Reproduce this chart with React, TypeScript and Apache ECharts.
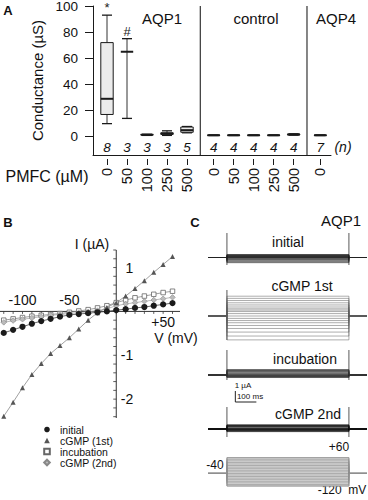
import React, { useEffect, useRef } from 'react';
import * as echarts from 'echarts';

const FONT = '"Liberation Sans", Arial, Helvetica, sans-serif';
const INK = '#1a1a1a';

// ---------- Panel A: conductance box plots ----------
const groupTitles = ['AQP1', 'control', 'AQP4'];
const groupOf = [0, 0, 0, 0, 0, 1, 1, 1, 1, 1, 2];
const pmfcLabels = ['0', '50', '100', '250', '500', '0', '50', '100', '250', '500', '0'];
const boxLow = [10, 14, 1.0, 1.0, 3.0, 0.9, 0.9, 0.9, 0.9, 1.2, 0.9];
const boxQ1 = [17, 65, 1.3, 1.8, 3.4, 1.0, 1.0, 1.0, 1.0, 1.4, 1.0];
const boxMedian = [29, 65, 1.5, 2.3, 5.0, 1.1, 1.1, 1.1, 1.1, 1.7, 1.1];
const boxQ3 = [72, 65, 1.7, 3.0, 7.4, 1.2, 1.2, 1.2, 1.2, 2.0, 1.2];
const boxHigh = [93, 75, 1.9, 4.5, 7.8, 1.3, 1.3, 1.3, 1.3, 2.2, 1.3];
const nCounts = [8, 3, 3, 3, 5, 4, 4, 4, 4, 4, 7];
const sigMarks = ['*', '#', '', '', '', '', '', '', '', '', ''];
const conductanceTicks = [0, 20, 40, 60, 80, 100];

// ---------- Panel B: I-V relations ----------
const voltages = [-120, -110, -100, -90, -80, -70, -60, -50, -40, -30, -20, -10, 0, 10, 20, 30, 40, 50, 60];
const iInitial = [-0.49, -0.42, -0.35, -0.28, -0.22, -0.17, -0.12, -0.08, -0.06, -0.04, -0.02, 0.0, 0.03, 0.05, 0.08, 0.1, 0.13, 0.16, 0.19];
const iCgmp1 = [-2.39, -2.07, -1.74, -1.44, -1.19, -0.96, -0.78, -0.6, -0.4, -0.2, -0.03, 0.09, 0.2, 0.35, 0.52, 0.7, 0.89, 1.07, 1.25];
const iIncubation = [-0.2, -0.17, -0.14, -0.11, -0.09, -0.07, -0.05, -0.02, 0.01, 0.04, 0.08, 0.13, 0.2, 0.26, 0.31, 0.35, 0.39, 0.43, 0.46];
const iCgmp2 = [-0.25, -0.21, -0.18, -0.15, -0.12, -0.09, -0.07, -0.05, -0.03, -0.01, 0.02, 0.06, 0.13, 0.17, 0.2, 0.23, 0.26, 0.29, 0.32];
const vTickLabelsAbove = [-100, -50];
const vTickLabelsBelow = [50];
const iTickLabels = [-2, -1, 1];

// ---------- Panel C: current traces / protocol ----------
const HOLDING_MV = -40;
const PULSE_ON_MS = 0;
const PULSE_OFF_MS = 580;
const TRACE_START_MS = -90;
const TRACE_END_MS = 666;
const SCALE_T0_MS = 40;
const SCALE_MS = 100;
const SCALE_UA = 1;

const positions = groupOf.map((g, i) => i + g * 0.333);
const dividers = [(positions[4] + positions[5]) / 2, (positions[9] + positions[10]) / 2];
const holdIdx = voltages.indexOf(HOLDING_MV);

function labelFor(v: number) {
  let best = 0;
  positions.forEach((p, i) => { if (Math.abs(p - v) < Math.abs(positions[best] - v)) best = i; });
  return pmfcLabels[best];
}

const PX_PER_UA = 12;
function traceRange(hold: number, baseY: number, top: number, h: number) {
  return { min: hold - (top + h - baseY) / PX_PER_UA, max: hold + (baseY - top) / PX_PER_UA };
}

const traceGrids = [
  { name: 'initial', values: iInitial, top: 233, h: 32, base: 257.5, color: '#222', width: 0.6, trans: [PULSE_ON_MS, PULSE_OFF_MS] },
  { name: 'cGMP 1st', values: iCgmp1, top: 290, h: 50, base: 316, color: '#5a5a5a', width: 0.5, trans: [PULSE_ON_MS] },
  { name: 'incubation', values: iIncubation, top: 350, h: 30, base: 375, color: '#333', width: 0.6, trans: [PULSE_ON_MS, PULSE_OFF_MS] },
  { name: 'cGMP 2nd', values: iCgmp2, top: 407, h: 30, base: 429, color: '#111', width: 0.6, trans: [PULSE_ON_MS, PULSE_OFF_MS] },
];

function stepRender(color: string, width: number, trans: number[], bg?: { hi: number; lo: number }) {
  return (params: any, api: any) => {
    const step = api.value(1);
    const hold = api.value(2);
    const pts = [
      [TRACE_START_MS, hold], [PULSE_ON_MS, hold], [PULSE_ON_MS, step],
      [PULSE_OFF_MS, step], [PULSE_OFF_MS, hold], [TRACE_END_MS, hold],
    ].map((p) => api.coord(p));
    const children: any[] = [];
    if (params.dataIndex === 0) {
      const cs = params.coordSys;
      if (bg) {
        const a = api.coord([PULSE_ON_MS, bg.hi]);
        const b = api.coord([PULSE_OFF_MS, bg.lo]);
        children.push({ type: 'rect', shape: { x: a[0], y: a[1], width: b[0] - a[0], height: b[1] - a[1] }, style: { fill: '#e3e3e3', stroke: '#9a9a9a', lineWidth: 0.8 } });
      }
      trans.forEach((t) => {
        const x = api.coord([t, 0])[0];
        children.push({ type: 'line', shape: { x1: x, y1: cs.y, x2: x, y2: cs.y + cs.height }, style: { stroke: '#444', lineWidth: 0.9 } });
      });
    }
    children.push({ type: 'polyline', shape: { points: pts }, style: { stroke: color, lineWidth: width, fill: 'none' } });
    return { type: 'group', children };
  };
}

const iMinorTicks: number[] = [];
for (let k = -12; k <= 7; k++) iMinorTicks.push(+(k * 0.2).toFixed(1));

// crossing axes of panel B, drawn at V = 0 and I = 0 through the grid's own scales
function ivAxesRender(params: any, api: any) {
  const cs = params.coordSys;
  const o = api.coord([0, 0]);
  const stroke = '#333';
  const ts = (text: string, x: number, y: number, align: string, va: string) => ({
    type: 'text', x, y, style: { text, fontSize: 14, fontFamily: FONT, fill: '#111', align, verticalAlign: va },
  });
  const children: any[] = [
    { type: 'line', shape: { x1: cs.x, y1: o[1], x2: cs.x + cs.width, y2: o[1] }, style: { stroke, lineWidth: 1 } },
    { type: 'line', shape: { x1: o[0], y1: cs.y, x2: o[0], y2: cs.y + cs.height }, style: { stroke, lineWidth: 1 } },
  ];
  voltages.forEach((v) => {
    const x = api.coord([v, 0])[0];
    children.push({ type: 'line', shape: { x1: x, y1: o[1], x2: x, y2: o[1] + 2.5 }, style: { stroke, lineWidth: 0.8 } });
  });
  iMinorTicks.forEach((i) => {
    const y = api.coord([0, i])[1];
    children.push({ type: 'line', shape: { x1: o[0] - 3, y1: y, x2: o[0], y2: y }, style: { stroke, lineWidth: 0.8 } });
  });
  vTickLabelsAbove.forEach((v) => children.push(ts(String(v), api.coord([v, 0])[0], o[1] - 4, 'center', 'bottom')));
  vTickLabelsBelow.forEach((v) => children.push(ts('+' + v, api.coord([v, 0])[0], o[1] + 4, 'center', 'top')));
  iTickLabels.forEach((i) => children.push(ts(String(i), o[0] + 17, api.coord([0, i])[1], 'right', 'middle')));
  return { type: 'group', children };
}

function buildOption(): any {
  const hidden = { show: false };
  const grids: any[] = [
    { left: 93, top: 6, width: 238, height: 149 },
    { left: 0, top: 250, width: 180, height: 168 },
    ...traceGrids.map((g) => ({ left: 208, top: g.top, width: 159, height: g.h })),
    { left: 208, top: 391, width: 159, height: 11 },
    { left: 208, top: 457.7, width: 159, height: 28.3 },
  ].map((g) => ({ ...g, containLabel: false, outerBoundsMode: 'none', show: false }));

  const timeAxis = (gi: number) => ({ gridIndex: gi, type: 'value', min: TRACE_START_MS, max: TRACE_END_MS, show: false });

  const xAxis: any[] = [
    { gridIndex: 0, type: 'value', min: -0.7, max: 11.2, position: 'bottom',
      axisLine: { show: true, onZero: false, lineStyle: { color: INK, width: 1 } }, axisTick: hidden, axisLabel: hidden, splitLine: hidden },
    { gridIndex: 0, type: 'value', min: -0.7, max: 11.2, position: 'bottom', offset: 4,
      axisLine: { show: false, onZero: false },
      axisTick: { show: true, customValues: positions, length: 6, lineStyle: { color: INK, width: 1 } },
      axisLabel: { show: true, customValues: positions, rotate: 90, margin: 9, formatter: (v: number) => labelFor(v), fontSize: 14.5, color: '#111', fontFamily: FONT },
      splitLine: hidden },
    { gridIndex: 1, type: 'value', min: -124, max: 68, show: false },
    ...traceGrids.map((_, k) => timeAxis(2 + k)),
    timeAxis(6),
    timeAxis(7),
  ];

  const yAxis: any[] = [
    { gridIndex: 0, type: 'value', min: -14, max: 100,
      axisLine: { show: true, onZero: false, lineStyle: { color: INK, width: 1 } },
      axisTick: { show: true, customValues: conductanceTicks, length: 8, lineStyle: { color: INK } },
      axisLabel: { show: true, customValues: conductanceTicks, margin: 15, fontSize: 13.5, color: '#111', fontFamily: FONT },
      splitLine: hidden,
      name: 'Conductance (µS)', nameLocation: 'middle', nameGap: 42,
      nameTextStyle: { fontSize: 15, color: '#111', fontFamily: FONT } },
    { gridIndex: 1, type: 'value', min: -2.43, max: 1.4, show: false },
    ...traceGrids.map((g, k) => {
      const r = traceRange(g.values[holdIdx], g.base, g.top, g.h);
      return { gridIndex: 2 + k, type: 'value', min: r.min, max: r.max, show: false };
    }),
    { gridIndex: 6, type: 'value', min: 0, max: SCALE_UA, show: false },
    { gridIndex: 7, type: 'value', min: voltages[0], max: voltages[voltages.length - 1], show: false },
  ];

  const boxRows = positions.map((p, i) => [p, boxLow[i], boxQ1[i], boxMedian[i], boxQ3[i], boxHigh[i]]);
  const sigIdx = sigMarks.map((m, i) => (m ? i : -1)).filter((i) => i >= 0);

  const ivSeries = [
    { name: 'initial', data: iInitial, symbol: 'circle', size: 6.2, item: { color: '#1b1b1b' }, line: '#444', z: 5 },
    { name: 'cGMP (1st)', data: iCgmp1, symbol: 'triangle', size: 5, item: { color: '#555' }, line: '#888', z: 4 },
    { name: 'incubation', data: iIncubation, symbol: 'rect', size: 4.5, item: { color: '#fff', borderColor: '#666', borderWidth: 0.8 }, line: '#888', z: 3 },
    { name: 'cGMP (2nd)', data: iCgmp2, symbol: 'diamond', size: 5.5, item: { color: '#bbb', borderColor: '#888', borderWidth: 0.6 }, line: '#aaa', z: 3 },
  ].map((s) => ({
    type: 'line', name: s.name, xAxisIndex: 2, yAxisIndex: 1, z: s.z,
    data: voltages.map((v, i) => [v, s.data[i]]),
    symbol: s.symbol, symbolSize: s.size, showSymbol: true, showAllSymbol: true,
    itemStyle: s.item, lineStyle: { color: s.line, width: 0.8 },
    emphasis: { disabled: true },
  }));

  const series: any[] = [
    { type: 'custom', xAxisIndex: 0, yAxisIndex: 0, data: dividers.map((d) => [d, 0]),
      renderItem: (params: any, api: any) => {
        const x = api.coord([api.value(0), 0])[0];
        const cs = params.coordSys;
        return { type: 'line', shape: { x1: x, y1: cs.y, x2: x, y2: cs.y + cs.height }, style: { stroke: '#444', lineWidth: 1.3 } };
      } },
    { type: 'custom', xAxisIndex: 0, yAxisIndex: 0, data: boxRows, encode: { x: 0, y: [1, 2, 3, 4, 5] },
      renderItem: (params: any, api: any) => {
        const x = api.value(0);
        const lo = api.coord([x, api.value(1)]);
        const q1 = api.coord([x, api.value(2)]);
        const md = api.coord([x, api.value(3)]);
        const q3 = api.coord([x, api.value(4)]);
        const hi = api.coord([x, api.value(5)]);
        const bw = api.size([0.62, 0])[0];
        const cw = api.size([0.5, 0])[0];
        const cx = lo[0];
        const children: any[] = [
          { type: 'line', shape: { x1: cx, y1: lo[1], x2: cx, y2: hi[1] }, style: { stroke: '#333', lineWidth: 1 } },
          { type: 'line', shape: { x1: cx - cw / 2, y1: lo[1], x2: cx + cw / 2, y2: lo[1] }, style: { stroke: INK, lineWidth: 1.3 } },
          { type: 'line', shape: { x1: cx - cw / 2, y1: hi[1], x2: cx + cw / 2, y2: hi[1] }, style: { stroke: INK, lineWidth: 1.3 } },
        ];
        if (q1[1] - q3[1] > 0.01) {
          children.push({ type: 'rect', shape: { x: cx - bw / 2, y: q3[1], width: bw, height: q1[1] - q3[1] }, style: { fill: '#ebebeb', stroke: INK, lineWidth: 1 } });
        }
        children.push({ type: 'line', shape: { x1: cx - bw / 2, y1: md[1], x2: cx + bw / 2, y2: md[1] }, style: { stroke: INK, lineWidth: 2 } });
        return { type: 'group', children };
      } },
    { type: 'custom', xAxisIndex: 0, yAxisIndex: 0, data: positions.map((p) => [p, -8]),
      renderItem: (params: any, api: any) => {
        const p = api.coord([api.value(0), api.value(1)]);
        return { type: 'text', x: p[0], y: p[1], style: { text: String(nCounts[params.dataIndex]), fontSize: 13.5, fontStyle: 'italic', fontFamily: FONT, fill: '#111', align: 'center', verticalAlign: 'middle' } };
      } },
    { type: 'custom', xAxisIndex: 0, yAxisIndex: 0, data: sigIdx.map((i) => [positions[i], boxHigh[i]]),
      renderItem: (params: any, api: any) => {
        const p = api.coord([api.value(0), api.value(1)]);
        return { type: 'text', x: p[0], y: p[1] - 1, style: { text: sigMarks[sigIdx[params.dataIndex]], fontSize: 13, fontFamily: FONT, fill: '#222', align: 'center', verticalAlign: 'bottom' } };
      } },
    { type: 'custom', name: 'iv axes', xAxisIndex: 2, yAxisIndex: 1, data: [[0, 0]], z: 1, renderItem: ivAxesRender },
    ...ivSeries,
    ...traceGrids.map((g, k) => ({
      type: 'custom', name: 'trace ' + g.name, xAxisIndex: 3 + k, yAxisIndex: 2 + k,
      data: g.values.map((v, i) => [i, v, g.values[holdIdx]]),
      renderItem: stepRender(g.color, g.width, g.trans),
    })),
    { type: 'line', name: 'scale bar', xAxisIndex: 7, yAxisIndex: 6, symbol: 'none',
      data: [[SCALE_T0_MS, SCALE_UA], [SCALE_T0_MS, 0], [SCALE_T0_MS + SCALE_MS, 0]],
      lineStyle: { color: '#222', width: 1 }, clip: false },
    { type: 'custom', name: 'protocol', xAxisIndex: 8, yAxisIndex: 7,
      data: voltages.map((v, i) => [i, v, HOLDING_MV]),
      renderItem: stepRender('#8f8f8f', 0.7, [], { hi: voltages[voltages.length - 1], lo: voltages[0] }) },
  ];

  const txt = (text: string, x: number, y: number, size: number, extra: any = {}) => ({
    type: 'text', x, y, silent: true,
    style: { text, fontSize: size, fontFamily: FONT, fill: '#111', align: 'center', verticalAlign: 'middle', ...extra },
  });

  const graphic: any[] = [
    txt('A', 8, 10, 13, { fontWeight: 'bold' }),
    txt('B', 8, 222, 13, { fontWeight: 'bold' }),
    txt('C', 195, 222, 13, { fontWeight: 'bold' }),
    txt(groupTitles[0], 162, 18, 15),
    txt(groupTitles[1], 256, 18, 15),
    txt(groupTitles[2], 336, 18, 15),
    txt('(n)', 343, 147, 14, { fontStyle: 'italic' }),
    txt('PMFC (µM)', 47, 176, 16),
    txt('I (µA)', 92, 244, 14),
    txt('V (mV)', 176, 338, 14),
    txt('AQP1', 341, 220, 15),
    txt('initial', 288, 242, 14),
    txt('cGMP 1st', 302, 286, 14),
    txt('incubation', 305, 359, 14),
    txt('cGMP 2nd', 308, 414, 14),
    txt('1 µA', 243, 385, 8),
    txt('100 ms', 250, 396, 8),
    txt('+60', 339, 447, 12),
    txt('-40', 215, 465, 12),
    txt('-120  mV', 342, 490, 12),
  ];

  return {
    animation: false,
    backgroundColor: '#ffffff',
    textStyle: { fontFamily: FONT },
    grid: grids,
    xAxis,
    yAxis,
    legend: {
      orient: 'vertical', left: 34, top: 419, itemWidth: 16, itemHeight: 7, itemGap: 0,
      data: ['initial', 'cGMP (1st)', 'incubation', 'cGMP (2nd)'],
      lineStyle: { width: 0, opacity: 0 },
      textStyle: { fontSize: 10.5, color: '#111', fontFamily: FONT },
      selectedMode: false,
    },
    series,
    graphic,
  };
}

export default function App() {
  const ref = useRef<HTMLDivElement>(null);
  useEffect(() => {
    document.body.style.margin = '0';
    const chart = echarts.init(ref.current as HTMLDivElement, null, { renderer: 'svg' });
    chart.setOption(buildOption());
    return () => chart.dispose();
  }, []);
  return <div ref={ref} style={{ width: 368, height: 500, background: '#fff' }} />;
}
